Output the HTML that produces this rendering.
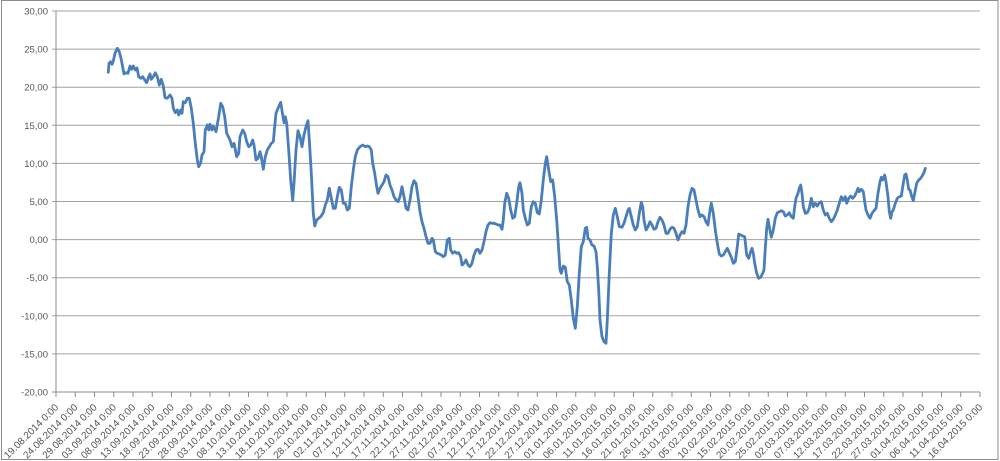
<!DOCTYPE html>
<html><head><meta charset="utf-8"><style>
html,body{margin:0;padding:0;background:#fff;}
svg{display:block;}
text{font-family:"Liberation Sans",Arial,sans-serif;fill:#555;}
</style></head><body>
<svg width="1000" height="461" viewBox="0 0 1000 461" xmlns="http://www.w3.org/2000/svg">
<rect x="1.5" y="0.5" width="996.5" height="459" fill="#fff" stroke="#8c8c8c" stroke-width="1"/>
<g stroke="#a0a0a0" stroke-width="1">
<line x1="52" y1="11" x2="980" y2="11"/>
<line x1="52" y1="49.1" x2="980" y2="49.1"/>
<line x1="52" y1="87.2" x2="980" y2="87.2"/>
<line x1="52" y1="125.3" x2="980" y2="125.3"/>
<line x1="52" y1="163.4" x2="980" y2="163.4"/>
<line x1="52" y1="201.5" x2="980" y2="201.5"/>
<line x1="52" y1="239.6" x2="980" y2="239.6"/>
<line x1="52" y1="277.7" x2="980" y2="277.7"/>
<line x1="52" y1="315.8" x2="980" y2="315.8"/>
<line x1="52" y1="353.9" x2="980" y2="353.9"/>
</g>
<g stroke="#8c8c8c" stroke-width="1">
<line x1="56" y1="11" x2="56" y2="392"/>
<line x1="52" y1="392" x2="980" y2="392"/>
</g>
<g font-size="9.5" text-anchor="end">
<text x="48" y="14.5">30,00</text>
<text x="48" y="52.6">25,00</text>
<text x="48" y="90.7">20,00</text>
<text x="48" y="128.8">15,00</text>
<text x="48" y="166.9">10,00</text>
<text x="48" y="205">5,00</text>
<text x="48" y="243.1">0,00</text>
<text x="48" y="281.2">-5,00</text>
<text x="48" y="319.3">-10,00</text>
<text x="48" y="357.4">-15,00</text>
<text x="48" y="395.5">-20,00</text>
</g>
<polyline fill="none" stroke="#4a7ebb" stroke-width="2.8" stroke-linejoin="round" stroke-linecap="round" points="108.3,72.3 109,63.3 110.7,61.7 112,64.3 113.3,61 115,53.3 117.3,48.3 119.3,51.7 121,58.3 122.3,65 124,74 126,72.7 128,73.3 130,66 131.7,69.3 133.3,66 135.3,70 137,68 138.7,76.7 140.7,78.3 142.7,76.7 144.7,80 146.7,82.7 148.7,76.7 150,74 151.3,79.3 153.3,76.7 155.3,72.7 157.3,76.7 159.3,85 161.3,79.3 163.3,86 165,97.7 167.3,98.3 170,95 172,98.3 173.3,108.3 175.3,112.7 177.3,110 178.7,115 180.7,110 182,113.3 183.3,101.7 185.3,102.7 187.3,98.3 189.3,98.3 191.3,108.3 193.3,123.3 195.3,143.3 197.3,160 198.7,166.7 200.7,162.7 202,155 204,151.7 205.3,130 207.3,125 208.7,130 210,124.3 212,130 213.3,126 216,131.7 218.7,116.7 220.7,103.3 222.7,106.7 224.7,116.7 226.7,133.3 230,140 232,146.7 234,143.3 236.7,156.7 238.7,153.3 240,136.7 242.7,130 244.7,133.3 246.7,141.7 248.7,146.7 250.7,145 252.7,140 254,145 256,160 258,158.3 260,151.7 261.3,156.7 263.3,169.3 265.3,156.7 267.3,150 269.3,146.7 271.3,143.3 273.3,141.7 274.7,126.7 276,113.3 278,108.3 280.7,102.3 282.7,115 284,122.7 285.3,116.7 286.7,123.3 288.7,150 290.7,180 292.7,200.7 294,183.3 296,150 298,130.7 300,136.7 302,146.7 304,135 306,126.7 308,120.7 309.3,140 311.3,173.3 313.3,213.3 314.7,226 316.7,220 318.7,218.3 320.7,216.7 323.3,212.7 325.3,205 327.3,200 329.3,188.3 331.3,198.3 333.3,208.3 335.3,208.3 337.3,196.7 339.3,187.3 341.3,190 343.3,203.3 345.3,203.3 347.3,210 349.3,208.3 351.3,186.7 353.3,170 355.3,156.7 357.3,150 360,146.7 362.7,145 365.3,146.7 367.3,146 369.3,146.7 371.3,150 372.7,163.3 374.7,173.3 376.7,186.7 378,193.3 380,188.3 382,185 384,181.7 386,175 388,176.7 390,185 392,190 394,196.7 396,200 398,201.7 400,196.7 402,186.7 404,196.7 406,208.3 408,210 410,200 412,186.7 414,180.7 416,183.3 418,196.7 420,211.7 422,221.7 424,228.3 426,236.7 428,243.3 430,243.3 432,238.3 433.3,240 435.3,251.7 437.3,253.3 439.3,254 441.3,255 443.3,256.7 445.3,255 447.3,240 449.3,238.3 450.7,250 452.7,253.3 454.7,251.7 456.7,253.3 458.7,252.7 460.7,256.7 462,265 464,263.3 466,260 468,265 470,266.7 472,263.3 474,255 476,250 478,249.3 480,253.3 482,250 484,241.7 486,231.7 488,225 490,222.7 492,223.3 494,223.3 496,224 498,225 500,225 502,229.3 503.3,220 504.7,203.3 506.7,193.3 508.7,198.3 510.7,210 512.7,218.3 514.7,216.7 516.7,203.3 518.7,186.7 520,182.7 522,193.3 523.3,210 525.3,218.3 527.3,225 529.3,223.3 531.3,206.7 533.3,201.7 535.3,203.3 537.3,212.7 539.3,214 541.3,200 543.3,180 545.3,163.3 546.7,156.7 548.7,170 550.7,181.7 552.7,180 554.7,196.7 556.7,220 558.7,250 560,270 561.3,273.3 563.3,266 565.3,267.3 567.3,281.7 569.3,285 571.3,300 573.3,318.3 575.3,328.3 577.3,306.7 579.3,273.3 581.3,246.7 583.3,241.7 585.3,228.3 586.7,227.3 588,238.3 590,240 592,245 594,246 596,251.7 597.3,266.7 598.7,290 600,320 602,336.7 604,341.7 606,343.3 607.3,320 609.3,273.3 611.3,233.3 613.3,215 615.3,208.3 617.3,216.7 619.3,226.7 620,226.7 622,227.3 624,223.3 626,216.7 628,210 629.3,208.3 631.3,216.7 633.3,225 635.3,230 637.3,226.7 639.3,213.3 641.3,202.3 642.7,206.7 644,220 646,230 648,226.7 650,221.7 652,225 654,229.3 656,228.3 658,221.7 660,217.3 662,220 664,225 666,233.3 668,233.3 670,229.3 672,227.3 674,228.3 676,233.3 678,240 680,235 682,231.7 684,233.3 686,225 688,206.7 690,195 692,188.3 694,190 696,200 698,210 700,216.7 702,215 704,216.7 706,221.7 708,225 710,210 711.3,203.3 713.3,213.3 715.3,230 717.3,243.3 719.3,254 721.3,256 723.3,255 725.3,251.7 727.3,248.3 729.3,252.7 731.3,257.3 733.3,263.3 735.3,261.7 737.3,246.7 738.7,234 740.7,235 742.7,236 744.7,236.7 746.7,255 748.7,258.3 750.7,251.7 752,248.3 753.3,253.3 754.7,263.3 756.7,273.3 758.7,278.3 760.7,277.3 762.7,273.3 764,270 765.3,248.3 766.7,228.3 768,219.3 769.3,226.7 771.3,237.3 773.3,230 775.3,218.3 777.3,212.7 779.3,211.7 781.3,210.7 783.3,211.7 785.3,216 787.3,215 789.3,212.7 791.3,216.7 793.3,218.3 794.7,206.7 796,198.3 798,193.3 799.3,188.3 800.7,185 802,193.3 803.3,206.7 805.3,213.3 807.3,212.7 809.3,208.3 811.3,198.3 813.3,206.7 815.3,203.3 817.3,206 819.3,202.7 821.3,201.7 823.3,210 825.3,215 827.3,213.3 829.3,218.3 831.3,221.7 833.3,219.3 835.3,215 837.3,210 839.3,203.3 841.3,196.7 843.3,200 845.3,196.7 846.7,203.3 848.7,198.3 850.7,196 852.7,198.3 854.7,196 856.7,191.7 858,188.3 859.3,191.7 861.3,189.3 862,190 863.3,191.7 864.7,201.7 866,210 868,215 870,218.3 872,213.3 874,210.7 876,208.3 878,193.3 880,181.7 881.3,177.3 882.7,180 884.7,175 886,181.7 888,196.7 889.3,211.7 890.7,218.3 892,211.7 893.3,210 895.3,203.3 897.3,198.3 899.3,196.7 901.3,196 903.3,183.3 904.7,175 906,174 907.3,180 908.7,189.3 910,190 911.3,195 913.3,200.7 914.7,193.3 916.7,183.3 918.7,180 920.7,178.3 922.7,175 924,172.7 925.3,168.3"/>
<g font-size="10" text-anchor="end">
<text transform="translate(59,408) rotate(-45)">19.08.2014 0:00</text>
<text transform="translate(78.25,408) rotate(-45)">24.08.2014 0:00</text>
<text transform="translate(97.5,408) rotate(-45)">29.08.2014 0:00</text>
<text transform="translate(116.75,408) rotate(-45)">03.09.2014 0:00</text>
<text transform="translate(136,408) rotate(-45)">08.09.2014 0:00</text>
<text transform="translate(155.25,408) rotate(-45)">13.09.2014 0:00</text>
<text transform="translate(174.5,408) rotate(-45)">18.09.2014 0:00</text>
<text transform="translate(193.75,408) rotate(-45)">23.09.2014 0:00</text>
<text transform="translate(213,408) rotate(-45)">28.09.2014 0:00</text>
<text transform="translate(232.25,408) rotate(-45)">03.10.2014 0:00</text>
<text transform="translate(251.5,408) rotate(-45)">08.10.2014 0:00</text>
<text transform="translate(270.75,408) rotate(-45)">13.10.2014 0:00</text>
<text transform="translate(290,408) rotate(-45)">18.10.2014 0:00</text>
<text transform="translate(309.25,408) rotate(-45)">23.10.2014 0:00</text>
<text transform="translate(328.5,408) rotate(-45)">28.10.2014 0:00</text>
<text transform="translate(347.75,408) rotate(-45)">02.11.2014 0:00</text>
<text transform="translate(367,408) rotate(-45)">07.11.2014 0:00</text>
<text transform="translate(386.25,408) rotate(-45)">12.11.2014 0:00</text>
<text transform="translate(405.5,408) rotate(-45)">17.11.2014 0:00</text>
<text transform="translate(424.75,408) rotate(-45)">22.11.2014 0:00</text>
<text transform="translate(444,408) rotate(-45)">27.11.2014 0:00</text>
<text transform="translate(463.25,408) rotate(-45)">02.12.2014 0:00</text>
<text transform="translate(482.5,408) rotate(-45)">07.12.2014 0:00</text>
<text transform="translate(501.75,408) rotate(-45)">12.12.2014 0:00</text>
<text transform="translate(521,408) rotate(-45)">17.12.2014 0:00</text>
<text transform="translate(540.25,408) rotate(-45)">22.12.2014 0:00</text>
<text transform="translate(559.5,408) rotate(-45)">27.12.2014 0:00</text>
<text transform="translate(578.75,408) rotate(-45)">01.01.2015 0:00</text>
<text transform="translate(598,408) rotate(-45)">06.01.2015 0:00</text>
<text transform="translate(617.25,408) rotate(-45)">11.01.2015 0:00</text>
<text transform="translate(636.5,408) rotate(-45)">16.01.2015 0:00</text>
<text transform="translate(655.75,408) rotate(-45)">21.01.2015 0:00</text>
<text transform="translate(675,408) rotate(-45)">26.01.2015 0:00</text>
<text transform="translate(694.25,408) rotate(-45)">31.01.2015 0:00</text>
<text transform="translate(713.5,408) rotate(-45)">05.02.2015 0:00</text>
<text transform="translate(732.75,408) rotate(-45)">10.02.2015 0:00</text>
<text transform="translate(752,408) rotate(-45)">15.02.2015 0:00</text>
<text transform="translate(771.25,408) rotate(-45)">20.02.2015 0:00</text>
<text transform="translate(790.5,408) rotate(-45)">25.02.2015 0:00</text>
<text transform="translate(809.75,408) rotate(-45)">02.03.2015 0:00</text>
<text transform="translate(829,408) rotate(-45)">07.03.2015 0:00</text>
<text transform="translate(848.25,408) rotate(-45)">12.03.2015 0:00</text>
<text transform="translate(867.5,408) rotate(-45)">17.03.2015 0:00</text>
<text transform="translate(886.75,408) rotate(-45)">22.03.2015 0:00</text>
<text transform="translate(906,408) rotate(-45)">27.03.2015 0:00</text>
<text transform="translate(925.25,408) rotate(-45)">01.04.2015 0:00</text>
<text transform="translate(944.5,408) rotate(-45)">06.04.2015 0:00</text>
<text transform="translate(963.75,408) rotate(-45)">11.04.2015 0:00</text>
<text transform="translate(983,408) rotate(-45)">16.04.2015 0:00</text>
</g>
<path stroke="#8c8c8c" stroke-width="1" fill="none" d="M56,392v5M75.25,392v5M94.5,392v5M113.75,392v5M133,392v5M152.25,392v5M171.5,392v5M190.75,392v5M210,392v5M229.25,392v5M248.5,392v5M267.75,392v5M287,392v5M306.25,392v5M325.5,392v5M344.75,392v5M364,392v5M383.25,392v5M402.5,392v5M421.75,392v5M441,392v5M460.25,392v5M479.5,392v5M498.75,392v5M518,392v5M537.25,392v5M556.5,392v5M575.75,392v5M595,392v5M614.25,392v5M633.5,392v5M652.75,392v5M672,392v5M691.25,392v5M710.5,392v5M729.75,392v5M749,392v5M768.25,392v5M787.5,392v5M806.75,392v5M826,392v5M845.25,392v5M864.5,392v5M883.75,392v5M903,392v5M922.25,392v5M941.5,392v5M960.75,392v5M980,392v5"/>
</svg>
</body></html>
